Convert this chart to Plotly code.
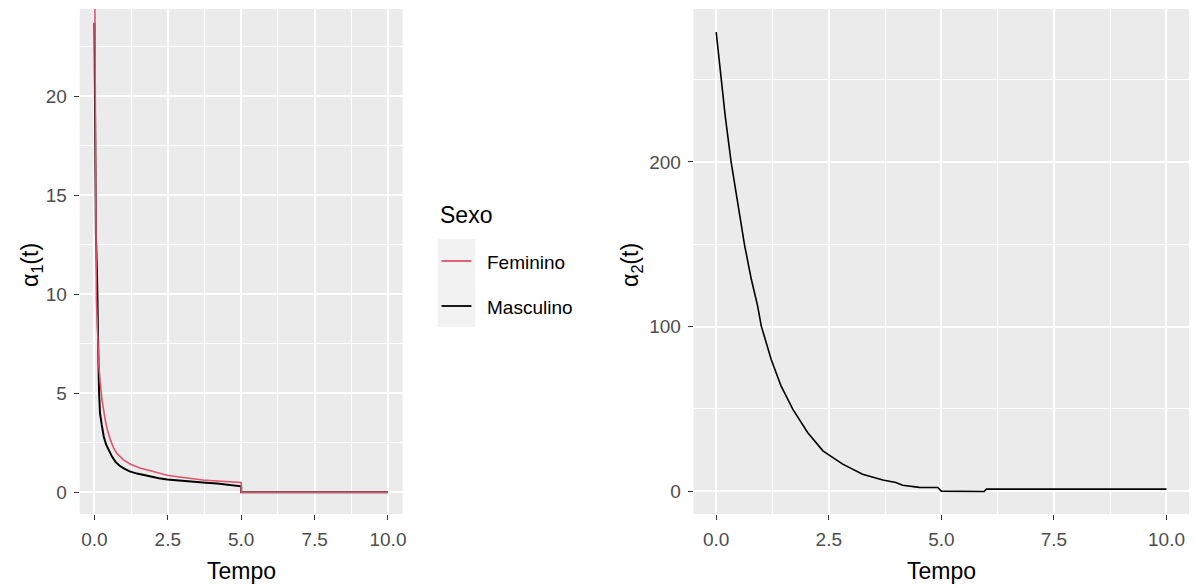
import plotly.graph_objects as go

# ---- data ----
t_masc = [0.0, 0.01, 0.03, 0.05, 0.09, 0.11, 0.14, 0.16, 0.19, 0.25, 0.32, 0.4, 0.49, 0.6, 0.72, 0.85,
          1.0, 1.2, 1.45, 1.7, 1.91, 2.2, 2.48, 2.9, 3.39, 3.8, 4.18, 4.45, 4.7, 4.92, 5.0, 5.0, 10.0]
a1_masc = [23.7, 20.7, 18.0, 13.1, 10.9, 7.9, 6.4, 5.0, 4.0, 3.4, 2.8, 2.4, 2.12, 1.8, 1.53, 1.35,
           1.2, 1.05, 0.94, 0.85, 0.77, 0.7, 0.64, 0.58, 0.52, 0.48, 0.44, 0.40, 0.37, 0.30, 0.30, 0.0, 0.0]

t_fem = [0.0, 0.02, 0.045, 0.07, 0.1, 0.15, 0.2, 0.26, 0.37, 0.45, 0.55, 0.65, 0.77, 1.0, 1.23, 1.55,
         1.91, 2.2, 2.48, 2.9, 3.28, 3.7, 4.18, 4.6, 4.96, 5.0, 5.0, 10.0]
a1_fem = [30.0, 20.0, 15.0, 9.7, 7.9, 6.4, 5.5, 4.65, 3.64, 3.1, 2.63, 2.25, 1.95, 1.62, 1.41, 1.22,
          1.08, 0.96, 0.86, 0.77, 0.69, 0.62, 0.57, 0.52, 0.49, 0.49, 0.0, 0.0]

t_2 = [0.0, 0.1, 0.2, 0.33, 0.48, 0.63, 0.78, 0.92, 1.0, 1.22, 1.44, 1.70, 2.03, 2.37, 2.81, 3.25,
       3.70, 3.99, 4.14, 4.51, 4.92, 5.0, 5.95, 6.0, 10.0]
a2 = [278.9, 252.0, 228.0, 200.2, 175.0, 149.5, 128.7, 112.5, 100.4, 80.1, 63.9, 49.8, 35.6, 24.5, 16.4,
      10.3, 6.7, 5.3, 3.6, 2.3, 2.2, 0.0, -0.2, 1.2, 1.2]

x_ticks = [0, 2.5, 5, 7.5, 10]
x_ticktext = ["0.0", "2.5", "5.0", "7.5", "10.0"]
x_minor = [1.25, 3.75, 6.25, 8.75]
y1_ticks = [0, 5, 10, 15, 20]
y1_minor = [2.5, 7.5, 12.5, 17.5, 22.5]
y2_ticks = [0, 100, 200]
y2_minor = [50, 150, 250]

series_names = ["Feminino", "Masculino"]
series_colors = ["#DF536B", "#000000"]

W, H = 1197, 588
FONT = "Liberation Sans, Arial, sans-serif"
TOP, BOT = 9, 514
PH = BOT - TOP


def px_x(x):
    return x / W


def px_y(y):
    return (BOT - y) / PH


fig = go.Figure()
fig.add_trace(go.Scatter(x=t_masc, y=a1_masc, mode="lines", name=series_names[1],
                         line=dict(color=series_colors[1], width=2), xaxis="x", yaxis="y"))
fig.add_trace(go.Scatter(x=t_fem, y=a1_fem, mode="lines", name=series_names[0],
                         line=dict(color=series_colors[0], width=1.6), xaxis="x", yaxis="y"))
fig.add_trace(go.Scatter(x=t_2, y=a2, mode="lines", name="alpha2",
                         line=dict(color="#000000", width=1.6), xaxis="x2", yaxis="y2"))

common_axis = dict(showgrid=True, gridcolor="white", gridwidth=1.8, zeroline=False, showline=False,
                   ticks="outside", ticklen=5, tickwidth=1.3, tickcolor="#333333",
                   tickfont=dict(family=FONT, size=19, color="#4D4D4D"), fixedrange=True,
                   ticklabelstandoff=3)

fig.update_layout(
    width=W, height=H,
    margin=dict(l=0, r=0, t=TOP, b=H - BOT),
    paper_bgcolor="white", plot_bgcolor="#EBEBEB",
    showlegend=False,
    xaxis=dict(domain=[px_x(80), px_x(404)], range=[-0.5, 10.5], tickmode="array",
               tickvals=x_ticks, ticktext=x_ticktext, anchor="y",
               minor=dict(tickvals=x_minor, showgrid=True, gridcolor="white", gridwidth=0.9, ticks=""),
               **common_axis),
    yaxis=dict(domain=[0, 1], range=[-1.1, 24.4], tickmode="array", tickvals=y1_ticks,
               ticktext=[str(v) for v in y1_ticks], anchor="x",
               minor=dict(tickvals=y1_minor, showgrid=True, gridcolor="white", gridwidth=0.9, ticks=""),
               **common_axis),
    xaxis2=dict(domain=[px_x(696), px_x(1193)], range=[-0.5, 10.5], tickmode="array",
                tickvals=x_ticks, ticktext=x_ticktext, anchor="y2",
                minor=dict(tickvals=x_minor, showgrid=True, gridcolor="white", gridwidth=0.9, ticks=""),
                **common_axis),
    yaxis2=dict(domain=[0, 1], range=[-13.9, 292.9], tickmode="array", tickvals=y2_ticks,
                ticktext=[str(v) for v in y2_ticks], anchor="x2",
                minor=dict(tickvals=y2_minor, showgrid=True, gridcolor="white", gridwidth=0.9, ticks=""),
                **common_axis),
)

title_font = dict(family=FONT, size=23, color="black")
ann = [
    dict(text="Tempo", x=px_x(242.5), y=px_y(571), xanchor="center", yanchor="middle"),
    dict(text="Tempo", x=px_x(944.5), y=px_y(571), xanchor="center", yanchor="middle"),
    dict(text="α<sub>1</sub>(t)", x=px_x(31), y=px_y(265), textangle=-90, xanchor="center", yanchor="middle"),
    dict(text="α<sub>2</sub>(t)", x=px_x(633), y=px_y(265), textangle=-90, xanchor="center", yanchor="middle"),
    dict(text="Sexo", x=px_x(439), y=px_y(215), xanchor="left", yanchor="middle"),
]
for a in ann:
    fig.add_annotation(xref="paper", yref="paper", showarrow=False, font=title_font, **a)

# legend (drawn manually, ggplot style)
fig.add_shape(type="rect", xref="paper", yref="paper", x0=px_x(439), x1=px_x(477),
              y0=px_y(327), y1=px_y(239), fillcolor="#F2F2F2", line=dict(width=0), layer="below")
for name, col, yy in zip(series_names, series_colors, [261, 306]):
    fig.add_shape(type="line", xref="paper", yref="paper", x0=px_x(443), x1=px_x(473),
                  y0=px_y(yy), y1=px_y(yy), line=dict(color=col, width=1.8))
    fig.add_annotation(xref="paper", yref="paper", showarrow=False, text=name,
                       x=px_x(487), y=px_y(yy + 1.5), xanchor="left", yanchor="middle",
                       font=dict(family=FONT, size=19, color="black"))

fig.write_html("out.html")
